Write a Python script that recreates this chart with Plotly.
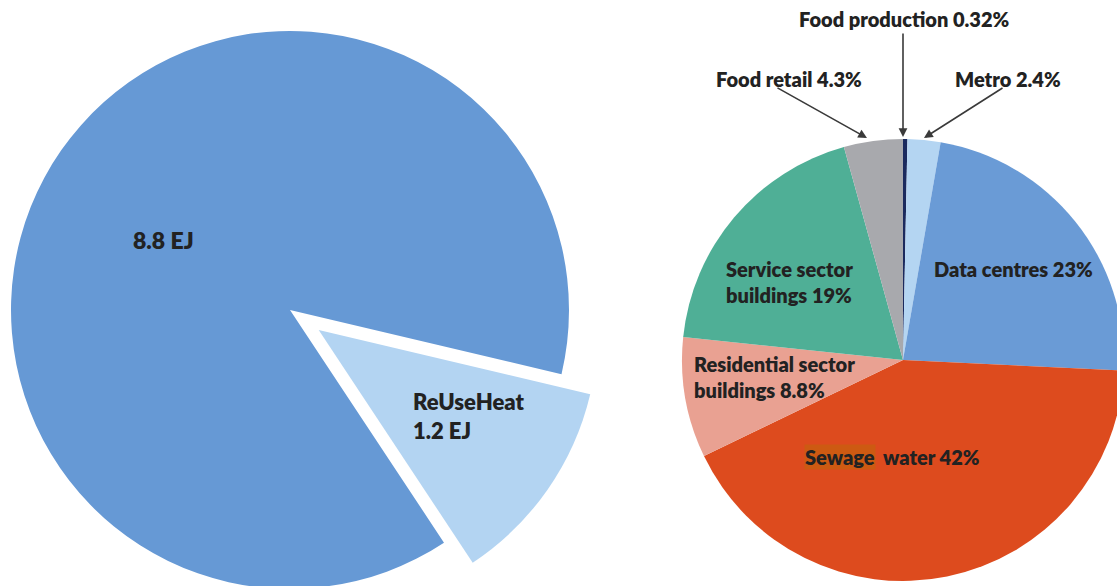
import math
import plotly.graph_objects as go

# ---------------- data ----------------
left_labels = ["ReUseHeat", "Rest"]
left_values = [1.2, 8.8]
left_units = "EJ"

right_labels = ["Food production", "Metro", "Data centres", "Sewage water",
                "Residential sector buildings", "Service sector buildings", "Food retail"]
right_values = [0.32, 2.4, 23, 42, 8.8, 19, 4.3]

# ---------------- styling ----------------
W, H = 1140, 620          # figure is slightly larger than the 1117x586 window (pies are cut by the frame)
left_colors = ["#B3D4F2", "#6699D5"]
right_colors = ["#1B2A5E", "#B4D5F2", "#6A9BD6", "#DD4B1E", "#E9A192", "#4FAF96", "#A8A9AD"]
TXT = "#222222"
FONT = "Lato"
WEIGHT = 800


def px_x(x):
    return x / W


def px_y(y):
    return 1 - y / H


def dom(cx, cy, half):
    return dict(x=[px_x(cx - half), px_x(cx + half)],
                y=[px_y(cy + half), px_y(cy - half)])


# left pie: apex of big slice at (290,310), radius 279, both slices pulled apart
r_left = 279.0
sep = 35.0
pull_px = sep / 2
mid = math.radians(34.9)
ux, uy = math.cos(mid), math.sin(mid)
cxl = 290 + pull_px * ux
cyl = 310 + pull_px * uy
half_l = r_left + pull_px
pull_frac = pull_px / r_left

fig = go.Figure()
fig.add_trace(go.Pie(
    labels=left_labels, values=left_values, sort=False, direction="clockwise",
    rotation=103.3, pull=[pull_frac, pull_frac],
    marker=dict(colors=left_colors, line=dict(width=0)),
    textinfo="none", hoverinfo="label+value", showlegend=False,
    domain=dom(cxl, cyl, half_l),
))

# right pie: centre (903,360), radius 221
fig.add_trace(go.Pie(
    labels=right_labels, values=right_values, sort=False, direction="clockwise",
    rotation=0,
    marker=dict(colors=right_colors, line=dict(width=0)),
    textinfo="none", hoverinfo="label+percent", showlegend=False,
    domain=dom(903, 360, 221),
))

ann = []


def label(text, x, y, xanchor="left", size=20, align="left", bgcolor=None):
    d = dict(text=text, x=px_x(x), y=px_y(y), xref="paper", yref="paper",
             xanchor=xanchor, yanchor="middle", showarrow=False, align=align,
             font=dict(family=FONT, size=size, color=TXT, weight=WEIGHT))
    if bgcolor:
        d["bgcolor"] = bgcolor
        d["borderpad"] = 0
    ann.append(d)


def arrow(x_tip, y_tip, x_tail, y_tail):
    ann.append(dict(text="", x=px_x(x_tip), y=px_y(y_tip), xref="paper", yref="paper",
                    ax=x_tail - x_tip, ay=y_tail - y_tip, axref="pixel", ayref="pixel",
                    showarrow=True, arrowhead=2, arrowsize=1.1, arrowwidth=1.6,
                    arrowcolor="#3a3a3a", standoff=0, startstandoff=0))


# left chart labels
label(f"{left_values[1]:g} {left_units}", 131, 240, size=23)
label(f"{left_labels[0]}<br>{left_values[0]:g} {left_units}", 411, 416, size=22)

# right chart labels (inside)
label(f"{right_labels[2]} {right_values[2]:g}%", 932, 269)
label(f"Service sector<br>buildings {right_values[5]:g}%", 724, 282)
label(f"Residential sector<br>buildings {right_values[4]:g}%", 692, 377)
label("Sewage", 876, 457, xanchor="right", bgcolor="#CD5A12")
label(f"water {right_values[3]:g}%", 881, 457)

# right chart labels (outside, with arrows)
label(f"{right_labels[0]} {right_values[0]:g}%", 904, 19, xanchor="center")
label(f"{right_labels[6]} {right_values[6]:g}%", 714, 79)
label(f"{right_labels[1]} {right_values[1]:g}%", 953, 79)
arrow(903, 137, 903, 32)
arrow(867, 138, 776, 87)
arrow(924, 138, 1004, 87)

fig.update_layout(
    width=W, height=H, margin=dict(l=0, r=0, t=0, b=0, pad=0),
    paper_bgcolor="white", plot_bgcolor="white",
    annotations=ann, showlegend=False,
)

fig.write_html(
    "out.html",
    config={"displayModeBar": False},
    post_script="document.documentElement.style.overflow='hidden';document.body.style.overflow='hidden';",
)
